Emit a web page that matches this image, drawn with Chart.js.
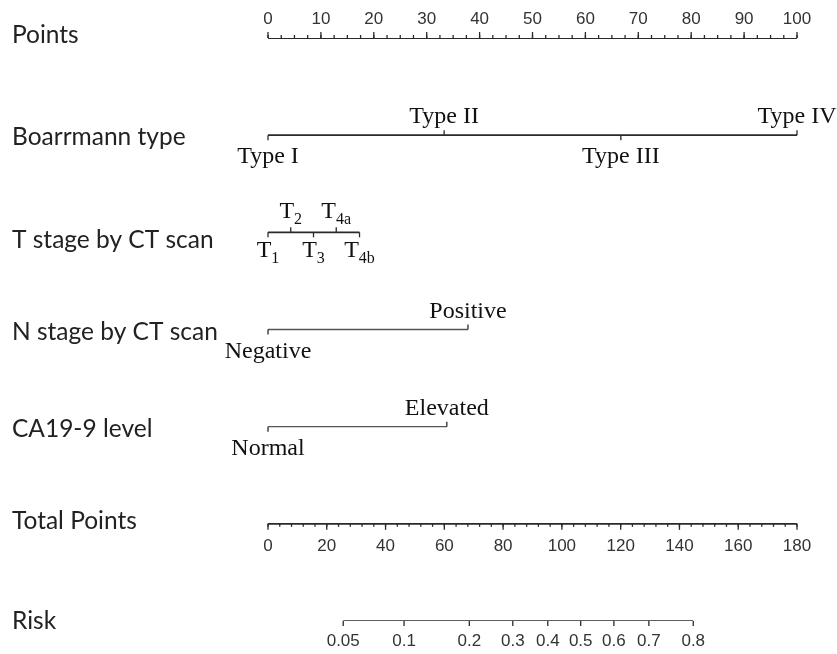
<!DOCTYPE html>
<html>
<head>
<meta charset="utf-8">
<script src="https://cdn.jsdelivr.net/npm/chart.js@4.4.0/dist/chart.umd.min.js"></script>
<style>
  html, body { margin: 0; padding: 0; background: #fff; }
  #wrap { width: 837px; height: 654px; position: relative; }
</style>
</head>
<body>
<div id="wrap"><canvas id="nomogram"></canvas></div>
<script>
// Row names, top to bottom
const rowNames = ['Points', 'Boarrmann type', 'T stage by CT scan', 'N stage by CT scan',
                  'CA19-9 level', 'Total Points', 'Risk'];

// Points axis (0-100)
const pointsTicks = [0, 10, 20, 30, 40, 50, 60, 70, 80, 90, 100];
const pointsMinorStep = 2.5;

// Predictors: level labels and their points
const boarrmannLevels = ['Type I', 'Type II', 'Type III', 'Type IV'];
const boarrmannPoints = [0, 33.3, 66.7, 100];
const tStageLevels = ['1', '2', '3', '4a', '4b'];   // shown as T with subscript
const tStagePoints = [0, 4.3, 8.6, 12.9, 17.3];
const nStageLevels = ['Negative', 'Positive'];
const nStagePoints = [0, 37.8];
const ca199Levels = ['Normal', 'Elevated'];
const ca199Points = [0, 33.8];

// Total points axis (0-180)
const totalTicks = [0, 20, 40, 60, 80, 100, 120, 140, 160, 180];
const totalMinorStep = 4;

// Risk axis: labels and where they sit on the total points scale
const riskLabels = ['0.05', '0.1', '0.2', '0.3', '0.4', '0.5', '0.6', '0.7', '0.8'];
const riskTotalPoints = [25.6, 46.3, 68.5, 83.3, 95.2, 106.4, 117.7, 129.6, 144.7];

const lineColor = '#2a2a2a';
const sansFont = 'Lato, "Open Sans", sans-serif';
const serifFont = '"Liberation Serif", "Times New Roman", serif';
const tickFont = '17px "Liberation Sans", Arial, sans-serif';
const rowLabelOffset = [-3, 2, 8, 3, 2, -3, 0];
const rowLineWidth = [1.8, 1.6, 1.8, 1.3, 1.3, 1.8, 1.4];

function segment(xFrom, xTo, row, axisId) {
  return {
    data: [{x: xFrom, y: row}, {x: xTo, y: row}],
    xAxisID: axisId || 'x',
    showLine: true,
    borderColor: row === 3 || row === 4 ? '#555' : lineColor,
    borderWidth: rowLineWidth[row],
    pointRadius: 0,
    fill: false
  };
}

const datasets = [
  segment(pointsTicks[0], pointsTicks[pointsTicks.length - 1], 0),
  segment(Math.min(...boarrmannPoints), Math.max(...boarrmannPoints), 1),
  segment(Math.min(...tStagePoints), Math.max(...tStagePoints), 2),
  segment(Math.min(...nStagePoints), Math.max(...nStagePoints), 3),
  segment(Math.min(...ca199Points), Math.max(...ca199Points), 4),
  segment(totalTicks[0], totalTicks[totalTicks.length - 1], 5, 'xt'),
  segment(riskTotalPoints[0], riskTotalPoints[riskTotalPoints.length - 1], 6, 'xt')
];

function vtick(ctx, px, py, len) {
  ctx.beginPath();
  ctx.moveTo(px, py);
  ctx.lineTo(px, py + len);
  ctx.stroke();
}

const nomogramPlugin = {
  id: 'nomogram',
  afterDatasetsDraw(chart) {
    const ctx = chart.ctx;
    const xs = chart.scales.x, xt = chart.scales.xt, ys = chart.scales.y;
    ctx.save();
    ctx.strokeStyle = lineColor;
    ctx.lineWidth = 1.3;
    ctx.fillStyle = '#222';

    // row names
    ctx.font = '24.5px ' + sansFont;
    ctx.textAlign = 'left';
    ctx.textBaseline = 'middle';
    rowNames.forEach((name, i) => {
      ctx.fillText(name, 12, ys.getPixelForValue(i) + rowLabelOffset[i]);
    });

    // Points axis: ticks up, labels above
    let py = ys.getPixelForValue(0);
    for (let v = pointsTicks[0]; v <= pointsTicks[pointsTicks.length - 1] + 1e-9; v += pointsMinorStep) {
      vtick(ctx, xs.getPixelForValue(v), py, -3);
    }
    ctx.font = tickFont;
    ctx.textAlign = 'center';
    ctx.fillStyle = '#333';
    pointsTicks.forEach(v => {
      const px = xs.getPixelForValue(v);
      vtick(ctx, px, py, -6);
      ctx.fillText(String(v), px, py - 19);
    });

    // categorical rows
    ctx.fillStyle = '#111';
    const catRows = [
      [1, boarrmannLevels, boarrmannPoints],
      [3, nStageLevels, nStagePoints],
      [4, ca199Levels, ca199Points]
    ];
    ctx.font = '24px ' + serifFont;
    ctx.textBaseline = 'alphabetic';
    catRows.forEach(([row, levels, pts]) => {
      const ry = ys.getPixelForValue(row);
      levels.forEach((lab, i) => {
        const px = xs.getPixelForValue(pts[i]);
        const above = i % 2 === 1;
        vtick(ctx, px, ry, above ? -5 : 5);
        ctx.fillText(lab, px, above ? ry - 12 : ry + 28);
      });
    });

    // T stage row with subscripts
    const ty = ys.getPixelForValue(2);
    tStageLevels.forEach((sub, i) => {
      const px = xs.getPixelForValue(tStagePoints[i]);
      const above = i % 2 === 1;
      vtick(ctx, px, ty, above ? -5 : 5);
      ctx.font = '24px ' + serifFont;
      const wT = ctx.measureText('T').width;
      ctx.font = '16px ' + serifFont;
      const wS = ctx.measureText(sub).width;
      const left = px - (wT + wS) / 2;
      const base = above ? ty - 14 : ty + 25;
      ctx.textAlign = 'left';
      ctx.font = '24px ' + serifFont;
      ctx.fillText('T', left, base);
      ctx.font = '16px ' + serifFont;
      ctx.fillText(sub, left + wT, base + 6);
    });

    // Total points axis: ticks down, labels below
    ctx.fillStyle = '#333';
    ctx.font = tickFont;
    ctx.textAlign = 'center';
    ctx.textBaseline = 'middle';
    py = ys.getPixelForValue(5);
    for (let v = totalTicks[0]; v <= totalTicks[totalTicks.length - 1] + 1e-9; v += totalMinorStep) {
      vtick(ctx, xt.getPixelForValue(v), py, 3);
    }
    totalTicks.forEach(v => {
      const px = xt.getPixelForValue(v);
      vtick(ctx, px, py, 6);
      ctx.fillText(String(v), px, py + 22);
    });

    // Risk axis
    py = ys.getPixelForValue(6);
    riskLabels.forEach((lab, i) => {
      const px = xt.getPixelForValue(riskTotalPoints[i]);
      vtick(ctx, px, py, 5);
      ctx.fillText(lab, px, py + 20);
    });
    ctx.restore();
  }
};

new Chart(document.getElementById('nomogram').getContext('2d'), {
  type: 'scatter',
  data: { datasets: datasets },
  options: {
    responsive: true,
    maintainAspectRatio: false,
    animation: false,
    layout: { padding: { left: 268, right: 40, top: 38, bottom: 33 } },
    scales: {
      x: { type: 'linear', min: 0, max: 100, display: false },
      xt: { type: 'linear', axis: 'x', min: 0, max: 180, display: false },
      y: { type: 'linear', min: 0, max: 6, reverse: true, display: false }
    },
    plugins: {
      legend: { display: false },
      tooltip: { enabled: false }
    }
  },
  plugins: [nomogramPlugin]
});
</script>
</body>
</html>
